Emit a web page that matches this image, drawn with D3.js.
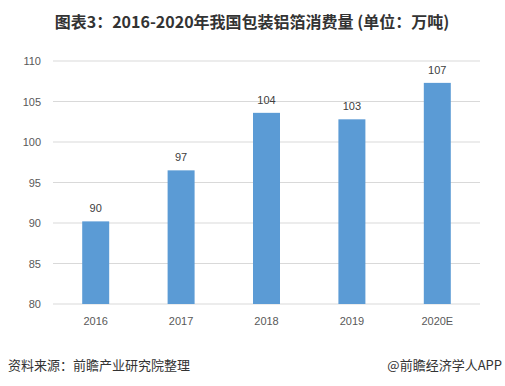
<!DOCTYPE html>
<html>
<head>
<meta charset="utf-8">
<script src="https://cdn.jsdelivr.net/npm/d3@7"></script>
<style>
  body { margin: 0; background: #fff; }
  text { font-family: "Microsoft YaHei", "Noto Sans CJK SC", sans-serif; }
</style>
</head>
<body>
<div id="chart"></div>
<script>
var years = ["2016", "2017", "2018", "2019", "2020E"];
var values = [90.2, 96.5, 103.6, 102.8, 107.3];
var valueLabels = ["90", "97", "104", "103", "107"];
var yTicks = [80, 85, 90, 95, 100, 105, 110];

var svgWidth = 505;
var svgHeight = 386;

var margin = { top: 61, right: 25, bottom: 82, left: 53 };
var width = svgWidth - margin.left - margin.right;
var height = svgHeight - margin.top - margin.bottom;

var svg = d3.select("#chart")
  .append("svg")
  .attr("width", svgWidth)
  .attr("height", svgHeight);

svg.append("text")
  .attr("x", 252)
  .attr("y", 28)
  .attr("text-anchor", "middle")
  .attr("font-size", "16px")
  .attr("font-weight", "bold")
  .attr("fill", "#333")
  .text("图表3：2016-2020年我国包装铝箔消费量 (单位：万吨)");

var chartGroup = svg.append("g")
  .attr("transform", `translate(${margin.left}, ${margin.top})`);

var xScale = d3.scaleBand()
  .domain(years)
  .range([0, width])
  .paddingInner(0.684)
  .paddingOuter(0.342);

var yScale = d3.scaleLinear()
  .domain([80, 110])
  .range([height, 0]);

// gridlines
chartGroup.append("g")
  .selectAll("line")
  .data(yTicks)
  .enter()
  .append("line")
  .attr("x1", 0)
  .attr("x2", width)
  .attr("y1", d => yScale(d))
  .attr("y2", d => yScale(d))
  .attr("stroke", "#d9d9d9")
  .attr("stroke-width", 1);

var leftAxis = d3.axisLeft(yScale).tickValues(yTicks).tickSize(0).tickPadding(12);
var yAxis = chartGroup.append("g").call(leftAxis);
yAxis.select(".domain").remove();
yAxis.selectAll("text")
  .attr("font-size", "11px")
  .attr("fill", "#595959")
  .style("font-family", "Arial, 'Liberation Sans', sans-serif");

chartGroup.selectAll("rect.bar")
  .data(values)
  .enter()
  .append("rect")
  .attr("class", "bar")
  .attr("x", (d, i) => xScale(years[i]))
  .attr("y", d => yScale(d))
  .attr("width", xScale.bandwidth())
  .attr("height", d => height - yScale(d))
  .attr("fill", "#5b9bd5");

chartGroup.selectAll("text.val")
  .data(values)
  .enter()
  .append("text")
  .attr("class", "val")
  .attr("x", (d, i) => xScale(years[i]) + xScale.bandwidth() / 2)
  .attr("y", d => yScale(d) - 9)
  .attr("text-anchor", "middle")
  .attr("font-size", "11px")
  .attr("fill", "#404040")
  .style("font-family", "Arial, 'Liberation Sans', sans-serif")
  .text((d, i) => valueLabels[i]);

var bottomAxis = d3.axisBottom(xScale).tickSize(0).tickPadding(13);
var xAxis = chartGroup.append("g")
  .attr("transform", `translate(0, ${height})`)
  .call(bottomAxis);
xAxis.select(".domain").remove();
xAxis.selectAll("text")
  .attr("font-size", "11px")
  .attr("fill", "#595959")
  .style("font-family", "Arial, 'Liberation Sans', sans-serif");

svg.append("text")
  .attr("x", 8)
  .attr("y", 370)
  .attr("font-size", "13px")
  .attr("fill", "#333")
  .text("资料来源：前瞻产业研究院整理");

svg.append("text")
  .attr("x", 502)
  .attr("y", 370)
  .attr("text-anchor", "end")
  .attr("font-size", "13px")
  .attr("fill", "#333")
  .text("@前瞻经济学人APP");
</script>
</body>
</html>
